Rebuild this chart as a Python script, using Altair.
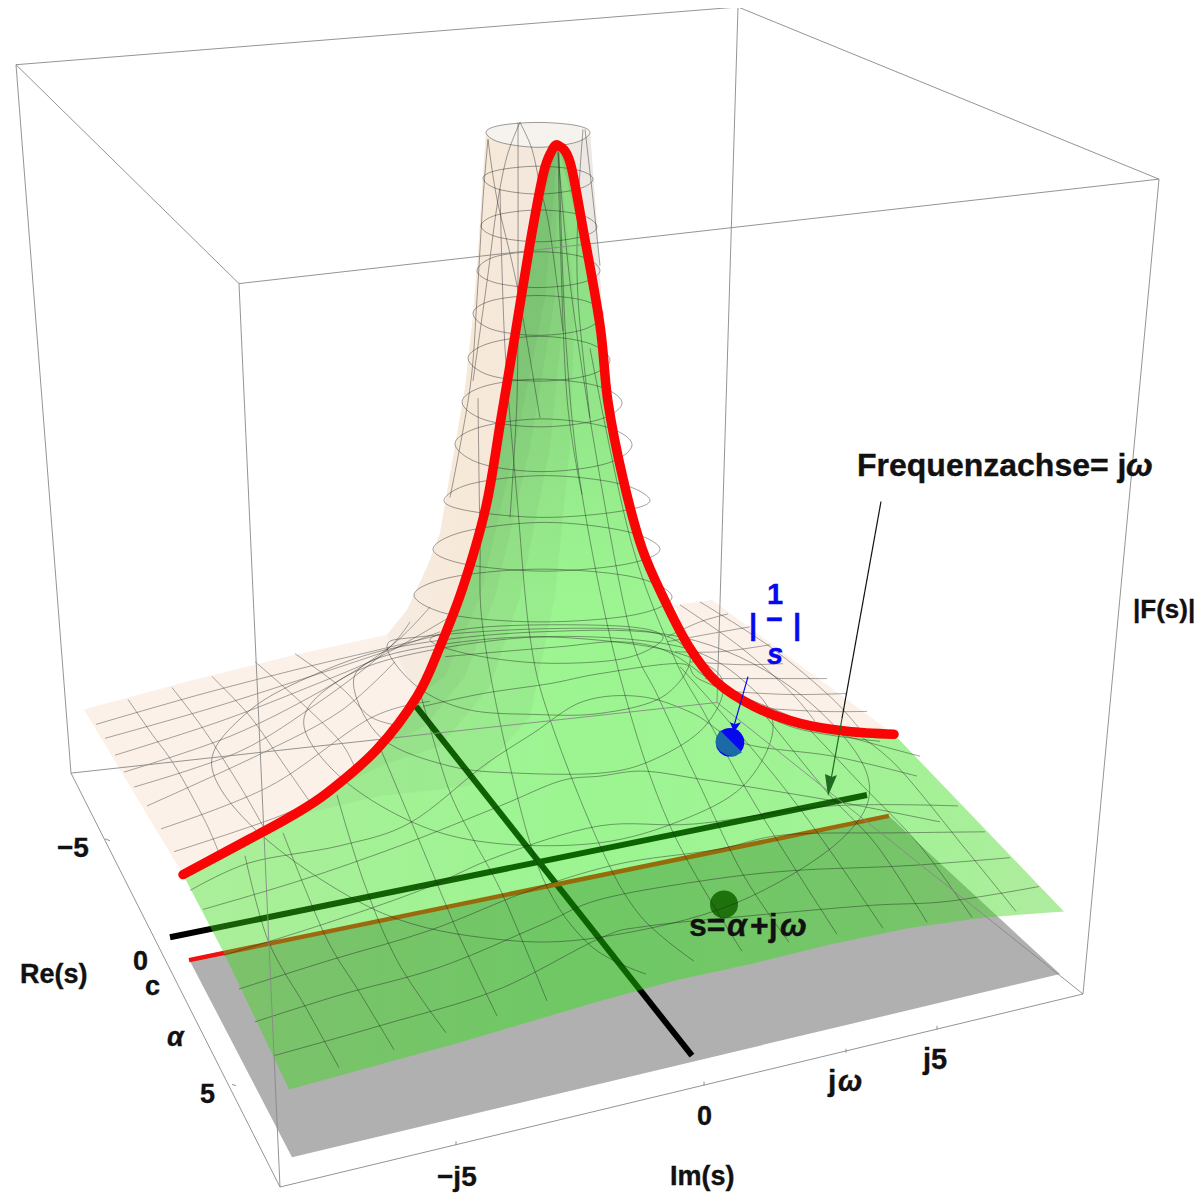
import altair as alt
import pandas as pd

# ---- picture-space readings (x, y) ----
box_lines = {
    "b1": [(16, 65), (738, 7)], "b2": [(738, 7), (1159, 180)], "b3": [(1159, 180), (239, 285)], "b4": [(239, 285), (16, 65)],
    "b5": [(16, 65), (71, 777)], "b6": [(239, 285), (280, 1193)], "b7": [(1159, 180), (1083, 999)], "b8": [(738, 7), (717, 706)],
    "b9": [(71, 777), (280, 1193)], "b10": [(280, 1193), (1083, 999)], "b11": [(71, 777), (717, 706)], "b12": [(717, 706), (1083, 999)],
    "t1": [(105, 843), (110, 845)], "t2": [(232, 1090), (236, 1091)], "t3": [(456, 1151), (456, 1147)], "t4": [(704, 1091), (704, 1087)], "t5": [(846, 1058), (846, 1054)], "t6": [(937, 1035), (937, 1031)],
}
gray_plane = [(190, 966), (292, 1163), (1060, 979), (889, 820)]
black_cross = [(170, 942), (867, 799)]
black_long = [(416, 710), (692, 1061)]
red_cross = [(189, 965), (889, 820)]

red_left = [(183, 879), (250, 843), (290, 821), (327, 797), (377, 753), (417, 700), (440, 650), (463, 590), (486, 509), (501, 421), (515, 337), (530, 245), (543, 176), (551, 153), (558, 146)]
red_right = [(570, 163), (583, 230), (600, 327), (608, 404), (623, 481), (642, 551), (665, 604), (689, 650), (716, 685), (754, 710), (800, 727), (847, 735), (894, 738)]

green_rest = [(1064, 916), (985, 922), (908, 933), (831, 949), (754, 968), (677, 985), (600, 1006), (459, 1048), (289, 1095), (224, 958)]

peach_plane = [(184, 881), (84, 713), (191, 684), (291, 659), (387, 638), (407, 613), (427, 570), (440, 536), (455, 448), (465, 390), (473, 318), (478, 256), (482, 191), (486, 133),
               (500, 126), (538, 123), (576, 126), (590, 133), (597, 227), (603, 327)]
peach_right = [(675, 608), (712, 603), (894, 738), (847, 735), (800, 727), (754, 710), (716, 685), (689, 650)]
tube_shade = [(417, 700), (387, 638), (407, 613), (427, 570), (440, 536), (455, 448), (465, 390), (473, 318), (478, 256), (482, 191), (486, 133), (500, 126), (538, 123), (576, 126), (590, 133), (597, 227), (603, 327), (558, 146), (530, 245), (501, 421), (463, 590), (440, 650)]
tube_top = [(486, 133), (500, 126), (538, 123), (576, 126), (590, 133), (576, 143), (538, 148), (500, 143)]

shade_1 = [(558, 146), (575, 300), (570, 450), (555, 600), (530, 720), (470, 790), (380, 800), (290, 821)]
shade_2 = [(558, 146), (565, 300), (550, 450), (520, 600), (490, 690), (440, 750), (380, 770), (327, 797)]
shade_3 = [(558, 146), (555, 300), (530, 450), (495, 600), (465, 680), (425, 730), (377, 753)]
shade_4 = [(558, 146), (545, 300), (515, 450), (480, 600), (445, 680), (417, 700)]
shade_edge = [(290, 821), (327, 797), (377, 753), (417, 700), (440, 650), (463, 590), (486, 509), (501, 421), (515, 337), (530, 245), (543, 176)]
hill_cap = [(463, 590), (486, 509), (501, 421), (515, 337), (530, 245), (543, 176), (551, 153), (558, 146), (570, 163), (583, 230), (600, 327), (608, 404), (623, 481), (642, 551), (665, 604)]

rings = {
    "r1": tube_top,
    "r2": [(483, 179), (498, 171), (538, 167), (578, 171), (593, 180), (578, 190), (538, 195), (498, 190)],
    "r3": [(481, 227), (497, 216), (539, 211), (581, 216), (597, 228), (581, 238), (539, 243), (497, 238)],
    "r4": [(477, 272), (495, 258), (538, 253), (582, 258), (600, 272), (582, 284), (538, 289), (495, 284)],
    "r5": [(473, 315), (492, 302), (538, 297), (584, 302), (603, 315), (584, 331), (538, 337), (492, 331)],
    "r6": [(468, 360), (489, 345), (539, 338), (589, 345), (610, 362), (589, 377), (539, 383), (489, 377)],
    "r7": [(462, 404), (485, 388), (540, 381), (598, 388), (622, 405), (598, 422), (540, 429), (485, 422)],
    "r8": [(455, 446), (481, 429), (542, 421), (606, 429), (632, 447), (606, 466), (542, 474), (481, 466)],
    "r9": [(444, 503), (472, 486), (545, 478), (619, 486), (650, 503), (619, 514), (545, 520), (472, 514)],
    "r10": [(433, 552), (465, 534), (545, 525), (626, 534), (660, 552), (626, 567), (545, 574), (465, 567)],
    "r11": [(414, 598), (452, 580), (542, 572), (634, 580), (672, 600), (634, 618), (542, 625), (452, 618)],
    "e1": [(212, 772), (245, 718), (310, 680), (400, 650), (540, 635), (680, 640), (790, 690), (866, 775), (845, 840), (735, 908), (600, 942), (497, 944), (383, 918), (268, 845)],
    "e2": [(304, 730), (330, 690), (400, 660), (540, 640), (680, 650), (750, 690), (773, 733), (743, 790), (680, 825), (600, 847), (500, 848), (421, 830), (345, 785)],
    "e3": [(354, 692), (370, 665), (440, 648), (540, 640), (650, 650), (710, 670), (723, 696), (700, 735), (650, 765), (600, 777), (517, 777), (450, 770), (383, 743)],
    "e4": [(387, 650), (420, 640), (540, 632), (650, 635), (690, 660), (663, 700), (600, 717), (533, 718), (467, 713), (417, 690)],
    "e5": [(430, 643), (467, 632), (540, 628), (630, 630), (663, 640), (640, 657), (600, 665), (533, 666), (467, 657)],
}

green_cross = {
    "g1": [(274, 1061), (383, 1030), (497, 995), (600, 943), (646, 931), (754, 920), (870, 910), (947, 906), (1039, 891)],
    "g2": [(255, 1027), (340, 1000), (440, 972), (540, 930), (600, 904), (704, 885), (793, 875), (908, 870), (1010, 862)],
    "g3": [(239, 994), (330, 965), (430, 935), (530, 895), (620, 868), (716, 854), (785, 839), (900, 837), (985, 836)],
    "g4": [(224, 960), (320, 930), (420, 895), (500, 860), (600, 830), (696, 828), (831, 810), (958, 810)],
    "g5": [(203, 914), (300, 885), (400, 850), (500, 810), (560, 785), (600, 780), (643, 775), (700, 783), (787, 797), (850, 808), (940, 826)],
    "g6": [(190, 895), (250, 867), (340, 850), (410, 827), (483, 770), (533, 737), (583, 705), (640, 700), (693, 717), (743, 747), (833, 760), (917, 780)],
    "g7": [(423, 710), (483, 697), (550, 687), (600, 677), (680, 667), (700, 683), (767, 710), (830, 735), (920, 760)],
    "g8": [(445, 660), (500, 655), (560, 650), (620, 645), (668, 655), (720, 690), (790, 730), (880, 745)],
}
green_radial = {
    "s1": [(339, 1073), (306, 1013), (268, 945), (245, 860)],
    "s2": [(394, 1055), (360, 998), (325, 940), (283, 837)],
    "s3": [(446, 1038), (398, 967), (364, 887), (337, 799)],
    "s4": [(497, 1021), (459, 940), (413, 830), (379, 749)],
    "s5": [(547, 1006), (503, 900), (473, 843), (448, 791), (421, 699)],
    "s6": [(646, 979), (590, 950), (543, 883), (510, 770), (483, 633), (480, 540), (478, 400)],
    "s7": [(694, 966), (640, 920), (600, 850), (550, 723), (530, 640), (517, 500), (505, 350), (500, 190)],
    "s8": [(742, 956), (670, 830), (620, 680), (582, 497), (566, 344), (559, 153)],
    "s9": [(789, 947), (742, 877), (696, 781), (658, 700), (631, 638), (600, 480), (572, 300), (558, 153)],
    "s10": [(837, 939), (793, 870), (746, 793), (704, 716), (673, 658), (630, 540), (590, 350)],
    "s11": [(883, 933), (835, 862), (785, 793), (727, 723), (680, 670)],
    "s12": [(927, 927), (877, 850), (827, 796), (762, 715)],
    "s13": [(972, 922), (920, 850), (862, 789), (800, 723)],
    "s14": [(1016, 916), (966, 854), (897, 770), (850, 733)],
}
peach_mesh = {
    "p1": [(96, 728), (200, 698), (300, 672), (383, 652), (440, 638)],
    "p2": [(105, 742), (210, 712), (310, 680), (385, 655), (440, 635)],
    "p3": [(115, 759), (220, 725), (310, 690), (380, 660), (450, 620)],
    "p4": [(124, 776), (230, 740), (320, 695), (390, 650), (430, 610)],
    "p5": [(134, 791), (240, 755), (320, 705), (385, 655), (410, 625)],
    "p6": [(147, 810), (260, 758), (340, 715), (395, 665)],
    "p7": [(161, 833), (270, 790), (370, 722), (430, 705)],
    "p8": [(174, 856), (280, 820), (340, 790)],
    "q1": [(128, 703), (150, 735), (175, 770), (205, 825), (220, 860)],
    "q2": [(172, 691), (205, 735), (240, 790), (265, 834)],
    "q3": [(212, 680), (250, 720), (285, 770), (310, 806)],
    "q4": [(255, 665), (300, 705), (340, 745), (355, 772)],
    "q5": [(295, 657), (340, 690), (370, 720), (398, 729)],
    "w1": [(667, 640), (700, 625), (728, 617)],
    "w2": [(667, 645), (710, 637), (750, 630)],
    "w3": [(675, 655), (720, 655), (770, 648)],
    "w4": [(690, 665), (740, 668), (783, 667)],
    "w5": [(705, 682), (760, 682), (827, 682)],
    "w6": [(730, 695), (790, 698), (847, 697)],
    "w7": [(765, 712), (820, 715), (867, 715)],
    "w8": [(700, 605), (770, 650), (830, 700), (860, 733)],
    "w9": [(680, 608), (740, 650), (790, 695), (815, 725)],
}
tube_mesh = {
    "m1": [(520, 123), (507, 157), (497, 207), (487, 283), (473, 383)],
    "m2": [(520, 123), (532, 150), (540, 187), (550, 233), (563, 333)],
    "m3": [(488, 140), (483, 200), (477, 300), (470, 390), (450, 500)],
    "m4": [(518, 123), (518, 267), (517, 400), (510, 520)],
    "m5": [(585, 130), (593, 200), (600, 267)],
    "m6": [(558, 147), (560, 233), (567, 400), (582, 497)],
    "m7": [(488, 140), (497, 200), (517, 287), (540, 420)],
    "m8": [(583, 130), (578, 210), (578, 300), (590, 420)],
}

blue_dark = [(720, 734), (716, 742), (716, 749), (720, 755), (727, 759), (735, 760), (742, 756)]
arrow_black = [(881, 504), (842, 722)]
arrow_green = [(842, 722), (829, 795)]
arrow_head_green = [(825, 778), (832, 781), (837, 779), (828, 800)]
arrow_blue = [(748, 680), (733, 733)]
arrow_head_blue = [(730, 726), (735, 728), (741, 726), (734, 736)]

point_green = [(724, 909)]
point_blue = [(730, 746)]

labels_bold = [
    ("Frequenzachse= j", 857, 478, 32), ("|F(s)|", 1133, 621, 26), ("Re(s)", 20, 988, 27), ("\u22125", 57, 861, 28),
    ("0", 133, 975, 27), ("c", 145, 1000, 27), ("5", 200, 1109, 27), ("\u2212j5", 437, 1192, 28),
    ("0", 697, 1131, 27), ("Im(s)", 670, 1191, 27), ("j", 828, 1097, 30), ("j5", 923, 1074, 29),
    ("s=", 689, 941, 32), ("+j", 750, 941, 32),
]
labels_italic = [("\u03c9", 1126, 478, 32), ("\u03b1", 167, 1051, 27), ("\u03c9", 838, 1097, 29), ("\u03b1", 727, 941, 32), ("\u03c9", 780, 941, 32)]
labels_blue = [("1", 767, 607, 29), ("|", 749, 638, 29), ("\u2212", 766, 632, 29), ("|", 793, 638, 29)]
labels_blue_italic = [("s", 767, 667, 29)]

# ---- chart ----
X = alt.X("x:Q", axis=None, scale=alt.Scale(domain=[8, 1196], zero=False, nice=False))
Y = alt.Y("y:Q", axis=None, scale=alt.Scale(domain=[1194, 8], zero=False, nice=False))


def frame(groups):
    return pd.DataFrame([{"id": k, "i": i, "x": p[0], "y": p[1]} for k, pts in groups.items() for i, p in enumerate(pts)])


def lines(groups, **mark):
    return alt.Chart(frame(groups)).mark_line(**mark).encode(X, Y, detail="id:N", order="i:Q")


def poly(pts, **mark):
    return alt.Chart(frame({"a": pts})).mark_line(strokeWidth=0, **mark).encode(X, Y, order="i:Q")


def dots(pts, color, size):
    df = pd.DataFrame(pts, columns=["x", "y"])
    return alt.Chart(df).mark_point(filled=True, shape="circle", size=size, color=color, opacity=1).encode(X, Y)


def texts(rows, color, **mark):
    df = pd.DataFrame(rows, columns=["t", "x", "y", "s"])
    return alt.Chart(df).mark_text(align="left", baseline="alphabetic", font="Liberation Sans", fontWeight="bold",
                                   color=color, stroke=color, strokeWidth=0.35, **mark).encode(
        X, Y, text="t:N", size=alt.Size("s:Q", scale=None))


green_fill = alt.LinearGradient(gradient="linear", x1=0, y1=0, x2=1, y2=0, stops=[
    alt.GradientStop(color="rgb(60,215,20)", offset=0),
    alt.GradientStop(color="rgb(25,232,0)", offset=0.45),
    alt.GradientStop(color="rgb(40,225,10)", offset=0.8),
    alt.GradientStop(color="rgb(70,210,30)", offset=1),
])
tube_fill = alt.LinearGradient(gradient="linear", x1=0, y1=0, x2=1, y2=0, stops=[
    alt.GradientStop(color="#f6ece4", offset=0),
    alt.GradientStop(color="#f7e9d8", offset=0.35),
    alt.GradientStop(color="#f3e8dc", offset=0.7),
    alt.GradientStop(color="#ebe8e6", offset=1),
])
cap_fill = alt.LinearGradient(gradient="linear", x1=0, y1=0, x2=0, y2=1, stops=[
    alt.GradientStop(color="rgba(0,0,0,0.10)", offset=0),
    alt.GradientStop(color="rgba(0,0,0,0.07)", offset=0.5),
    alt.GradientStop(color="rgba(0,0,0,0)", offset=1),
])

layers = [
    poly(gray_plane, fill="#b0b0b0"),
    lines({"a": black_cross, "b": black_long}, color="black", strokeWidth=6),
    lines({"a": red_cross}, color="#f01010", strokeWidth=4.5),
    dots(point_green, "#1c1c10", 784),
    poly(peach_plane + red_right[:3][::-1] + red_left[::-1], fill="#fbf1e8"),
    poly(peach_right, fill="#fbf1e8"),
    poly(tube_shade, fill=tube_fill),
    poly(tube_top, fill="#f6f2ee", interpolate="cardinal-closed"),
    poly(red_left + red_right + green_rest, fill=green_fill, fillOpacity=0.43),
    poly(hill_cap, fill=cap_fill),
    poly(shade_1 + shade_edge, fill="black", fillOpacity=0.03),
    poly(shade_2 + shade_edge[1:], fill="black", fillOpacity=0.03),
    poly(shade_3 + shade_edge[2:], fill="black", fillOpacity=0.03),
    poly(shade_4 + shade_edge[3:], fill="black", fillOpacity=0.03),
    lines(rings, color="#222222", strokeWidth=0.8, opacity=0.55, interpolate="cardinal-closed"),
    lines(green_cross, color="#222222", strokeWidth=0.8, opacity=0.55, interpolate="cardinal"),
    lines(green_radial, color="#222222", strokeWidth=0.8, opacity=0.55, interpolate="cardinal"),
    lines(peach_mesh, color="#222222", strokeWidth=0.8, opacity=0.5, interpolate="cardinal"),
    lines(tube_mesh, color="#222222", strokeWidth=0.8, opacity=0.55, interpolate="cardinal"),
    lines(box_lines, color="#888888", strokeWidth=0.9),
    lines({"a": red_left + red_right}, color="#fa0505", strokeWidth=9.5, interpolate="cardinal", strokeCap="round", strokeJoin="round"),
    dots(point_blue, "#0808ee", 818),
    poly(blue_dark, fill="#1a6aa8"),
    lines({"a": arrow_black}, color="#111111", strokeWidth=1.2),
    lines({"a": arrow_green}, color="#1f6b1f", strokeWidth=1.2),
    poly(arrow_head_green, fill="#1f6b1f"),
    lines({"a": arrow_blue}, color="#0808ee", strokeWidth=1.2),
    poly(arrow_head_blue, fill="#0808ee"),
    texts(labels_bold, "#111111"),
    texts(labels_italic, "#111111", fontStyle="italic"),
    texts(labels_blue, "#0808ee"),
    texts(labels_blue_italic, "#0808ee", fontStyle="italic"),
]

chart = alt.layer(*layers).properties(
    width=1188, height=1180,
    padding={"left": 0, "top": 0, "right": 0, "bottom": 6},
    autosize=alt.AutoSizeParams(type="none"),
).configure_view(strokeWidth=0)
chart.save("out.html", embed_options={"renderer": "svg", "actions": False})
